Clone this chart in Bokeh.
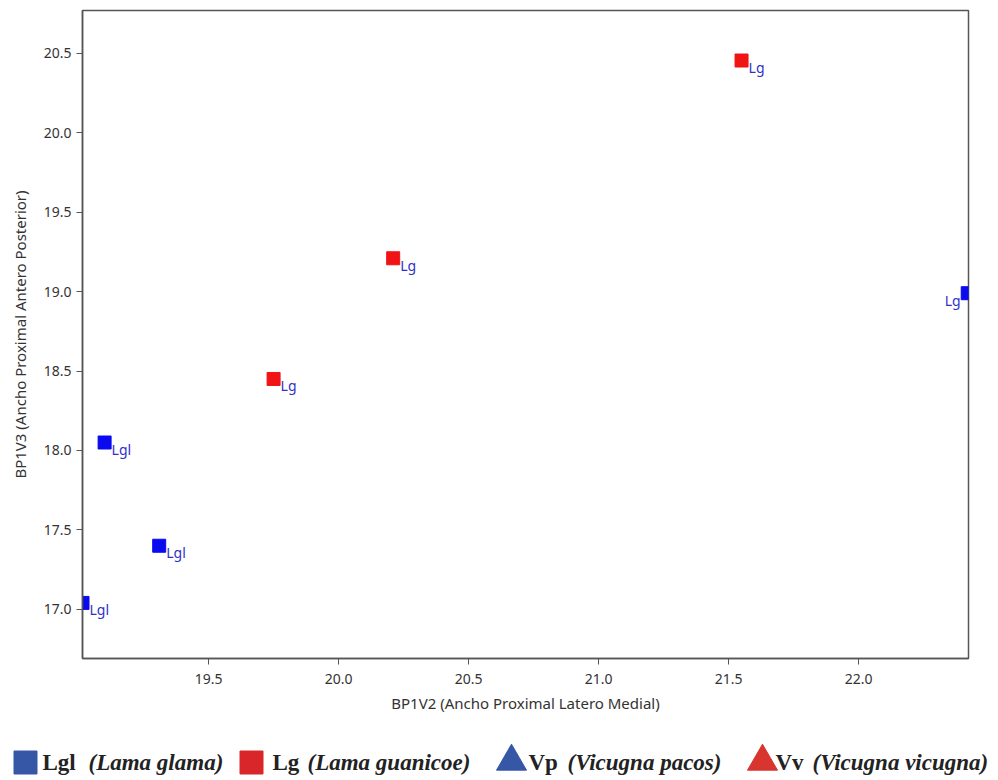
from bokeh.plotting import figure
from bokeh.models import FixedTicker, NumeralTickFormatter, ColumnDataSource, Range1d
from bokeh.layouts import column
from bokeh.embed import file_html
from bokeh.resources import INLINE
from bokeh.core.properties import value

# ---- data ----
lgl_x = [19.015, 19.10, 19.31, 22.42]
lgl_y = [17.04, 18.05, 17.40, 18.99]
lg_x = [19.75, 20.21, 21.55]
lg_y = [18.45, 19.21, 20.455]
lgl_labels = ["Lgl", "Lgl", "Lgl", "Lg"]
lg_labels = ["Lg", "Lg", "Lg"]

x_ticks = [19.5, 20.0, 20.5, 21.0, 21.5, 22.0]
y_ticks = [17.0, 17.5, 18.0, 18.5, 19.0, 19.5, 20.0, 20.5]
x_title = "BP1V2 (Ancho Proximal Latero Medial)"
y_title = "BP1V3 (Ancho Proximal Antero Posterior)"

legend_codes = ["Lgl", "Lg", "Vp", "Vv"]
legend_names = ["(Lama glama)", "(Lama guanicoe)", "(Vicugna pacos)", "(Vicugna vicugna)"]
legend_markers = ["square", "square", "triangle", "triangle"]
legend_colors = ["#3656a6", "#d8262b", "#3656a6", "#d8352f"]

# ---- main chart (10 + 648 + 60 = 718 px tall) ----
X_MIN, X_MAX = 19.015, 22.423
Y_MIN, Y_MAX = 16.69, 20.77

p = figure(width=998, height=718, output_backend="svg", toolbar_location=None,
           x_range=Range1d(X_MIN, X_MAX), y_range=Range1d(Y_MIN, Y_MAX),
           min_border_left=82, min_border_right=30, min_border_top=10, min_border_bottom=60)
p.frame_width = 886
p.frame_height = 648
p.frame_align = False
p.background_fill_color = "white"
p.border_fill_color = "white"
p.outline_line_color = "#555555"
p.outline_line_width = 1.5
p.grid.visible = False

for ax in (p.xaxis[0], p.yaxis[0]):
    ax.axis_line_color = "#555555"
    ax.axis_line_width = 1.5
    ax.major_tick_line_color = "#555555"
    ax.major_tick_out = 6
    ax.major_tick_in = 0
    ax.minor_tick_line_color = None
    ax.major_label_text_font = "Noto Sans"
    ax.major_label_text_font_size = "14px"
    ax.major_label_text_color = "#333333"
    ax.axis_label_text_font = "Noto Sans"
    ax.axis_label_text_font_size = "15px"
    ax.axis_label_text_font_style = "normal"
    ax.axis_label_text_color = "#333333"
    ax.formatter = NumeralTickFormatter(format="0.0")

p.xaxis[0].ticker = FixedTicker(ticks=x_ticks)
p.yaxis[0].ticker = FixedTicker(ticks=y_ticks)
p.xaxis[0].axis_label = x_title
p.yaxis[0].axis_label = y_title
p.xaxis[0].major_label_standoff = 9
p.xaxis[0].axis_label_standoff = 6
p.yaxis[0].axis_label_standoff = 11

src_lgl = ColumnDataSource(dict(x=lgl_x, y=lgl_y, t=lgl_labels,
                                align=["right" if v == max(lgl_x) else "left" for v in lgl_x],
                                xo=[-7 if v == max(lgl_x) else 7 for v in lgl_x]))
src_lg = ColumnDataSource(dict(x=lg_x, y=lg_y, t=lg_labels,
                               align=["left"] * len(lg_x), xo=[7] * len(lg_x)))

p.scatter("x", "y", source=src_lgl, marker="square", size=13, fill_color="#0a0af0", line_color="#0a0af0")
p.scatter("x", "y", source=src_lg, marker="square", size=13, fill_color="#f01414", line_color="#f01414")

for src in (src_lgl, src_lg):
    p.text("x", "y", text="t", source=src, x_offset="xo", y_offset=7,
           text_align="align", text_baseline="middle",
           text_font=value("Noto Sans"), text_font_size="14px", text_color="#3030c8")

# ---- legend strip (coordinates = pixels from the strip's top-left corner) ----
lg_fig = figure(width=998, height=62, output_backend="svg", toolbar_location=None,
                x_range=Range1d(0, 998), y_range=Range1d(62, 0),
                min_border=0, min_border_left=0, min_border_right=0,
                min_border_top=0, min_border_bottom=0)
lg_fig.frame_align = False
lg_fig.axis.visible = False
lg_fig.grid.visible = False
lg_fig.outline_line_color = None
lg_fig.background_fill_color = "white"
lg_fig.border_fill_color = "white"

marker_x = [25, 251, 511, 762]
marker_y = [44, 44, 43, 43]
code_x = [42, 272, 528, 775]
name_x = [88, 307, 567, 812]
text_mid_y = 44

lg_fig.scatter(marker_x, marker_y, marker=legend_markers, size=[23, 23, 30, 30],
               fill_color=legend_colors, line_color=legend_colors)
lg_fig.text(code_x, [text_mid_y] * 4, text=legend_codes, text_align="left",
            text_baseline="middle",
            text_font=value("Liberation Serif"), text_font_size="23px", text_font_style="bold",
            text_color="#222222")
lg_fig.text(name_x, [text_mid_y] * 4, text=legend_names, text_align="left",
            text_baseline="middle",
            text_font=value("Liberation Serif"), text_font_size="23px", text_font_style="bold italic",
            text_color="#222222")

layout = column(p, lg_fig, spacing=0)
open("out.html", "w").write(file_html(layout, INLINE))
